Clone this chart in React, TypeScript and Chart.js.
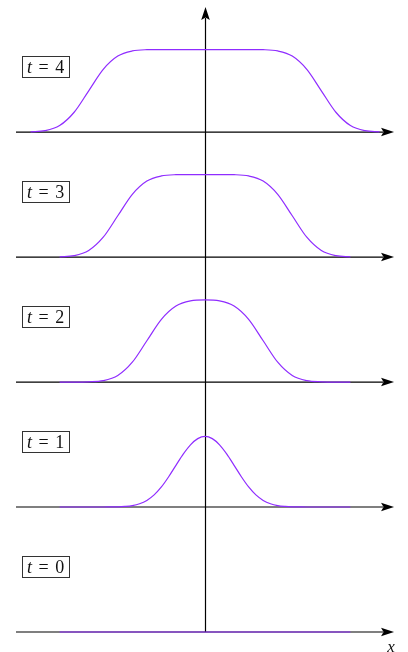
import React, { useEffect, useRef } from "react";
import { Chart, registerables } from "chart.js";

Chart.register(...registerables);

// x positions of the sampled points
const XS_NARROW = [-5, -4.5, -4, -3.5, -3, -2.5, -2, -1.5, -1, -0.5, 0, 0.5, 1, 1.5, 2, 2.5, 3, 3.5, 4, 4.5, 5];
const XS_FINE = [
  -5, -4.75, -4.5, -4.25, -4, -3.75, -3.5, -3.25, -3, -2.75, -2.5, -2.25, -2, -1.75, -1.5, -1.25, -1, -0.75, -0.5, -0.25,
  0, 0.25, 0.5, 0.75, 1, 1.25, 1.5, 1.75, 2, 2.25, 2.5, 2.75, 3, 3.25, 3.5, 3.75, 4, 4.25, 4.5, 4.75, 5,
];
const XS_WIDE = [-6, -5.5, -5, -4.5, -4, -3.5, -3, -2.5, -2, -1.5, -1, -0.5, 0, 0.5, 1, 1.5, 2, 2.5, 3, 3.5, 4, 4.5, 5, 5.5, 6];

// profile values u(x, t)
const U_T0 = [0, 0, 0, 0, 0, 0, 0, 0, 0, 0, 0, 0, 0, 0, 0, 0, 0, 0, 0, 0, 0];
const U_T1 = [
  0, 0, 0, 0, 0, 0, 0, 0.001, 0.002, 0.007, 0.017, 0.039, 0.08, 0.147, 0.243, 0.367, 0.505, 0.641, 0.754, 0.829,
  0.856, 0.829, 0.754, 0.641, 0.505, 0.367, 0.243, 0.147, 0.08, 0.039, 0.017, 0.007, 0.002, 0.001, 0, 0, 0, 0, 0, 0, 0,
];
const U_T2 = [0, 0, 0.003, 0.017, 0.079, 0.24, 0.5, 0.76, 0.921, 0.983, 0.995, 0.983, 0.921, 0.76, 0.5, 0.24, 0.079, 0.017, 0.003, 0, 0];
const U_T3 = [0.003, 0.017, 0.079, 0.24, 0.5, 0.76, 0.921, 0.983, 0.998, 1, 1, 1, 0.998, 0.983, 0.921, 0.76, 0.5, 0.24, 0.079, 0.017, 0.003];
const U_T4 = [0.003, 0.017, 0.079, 0.24, 0.5, 0.76, 0.921, 0.983, 0.998, 1, 1, 1, 1, 1, 1, 1, 0.998, 0.983, 0.921, 0.76, 0.5, 0.24, 0.079, 0.017, 0.003];

const TIMES = [0, 1, 2, 3, 4];
const PANELS = [
  { xs: XS_NARROW, u: U_T0 },
  { xs: XS_FINE, u: U_T1 },
  { xs: XS_NARROW, u: U_T2 },
  { xs: XS_NARROW, u: U_T3 },
  { xs: XS_WIDE, u: U_T4 },
];

const PANEL_GAP = 1.515;
const AXIS_X_MIN = -6.5;
const AXIS_X_MAX = 6.5;
const V_AXIS_TOP = 7.575;
const LABEL_RAISE = 0.8;
const PURPLE = "#8f2cff";

export default function App() {
  const ref = useRef<HTMLCanvasElement | null>(null);

  useEffect(() => {
    if (!ref.current) return;

    const axesPlugin = {
      id: "axesPlugin",
      beforeDatasetsDraw(chart: any) {
        const ctx = chart.ctx;
        const xs = chart.scales.x;
        const ys = chart.scales.y;
        ctx.save();
        ctx.strokeStyle = "#000";
        ctx.fillStyle = "#000";
        ctx.lineWidth = 1.2;
        const headLen = 13;
        const headHalf = 4.3;
        // horizontal axes
        TIMES.forEach((_, i) => {
          const y = ys.getPixelForValue(i * PANEL_GAP);
          const x0 = xs.getPixelForValue(AXIS_X_MIN);
          const x1 = xs.getPixelForValue(AXIS_X_MAX);
          ctx.beginPath();
          ctx.moveTo(x0, y);
          ctx.lineTo(x1 - headLen + 2, y);
          ctx.stroke();
          ctx.beginPath();
          ctx.moveTo(x1, y);
          ctx.lineTo(x1 - headLen, y - headHalf);
          ctx.lineTo(x1 - headLen + 2.5, y);
          ctx.lineTo(x1 - headLen, y + headHalf);
          ctx.closePath();
          ctx.fill();
        });
        // vertical axis
        const vx = Math.round(xs.getPixelForValue(0)) + 0.5;
        const yb = ys.getPixelForValue(0);
        const yt = ys.getPixelForValue(V_AXIS_TOP);
        ctx.beginPath();
        ctx.moveTo(vx, yb);
        ctx.lineTo(vx, yt + headLen - 2);
        ctx.stroke();
        ctx.beginPath();
        ctx.moveTo(vx, yt);
        ctx.lineTo(vx - headHalf, yt + headLen);
        ctx.lineTo(vx, yt + headLen - 2.5);
        ctx.lineTo(vx + headHalf, yt + headLen);
        ctx.closePath();
        ctx.fill();
        ctx.restore();
      },
      afterDraw(chart: any) {
        const ctx = chart.ctx;
        const xs = chart.scales.x;
        const ys = chart.scales.y;
        ctx.save();
        const fontSize = 18;
        const italic = `italic ${fontSize}px "Liberation Serif", serif`;
        const upright = `${fontSize}px "Liberation Serif", serif`;
        TIMES.forEach((t, i) => {
          const cy = ys.getPixelForValue(i * PANEL_GAP + LABEL_RAISE);
          const bx = 22.5;
          const bw = 47;
          const bh = 21;
          const by = Math.round(cy - bh / 2) + 0.5;
          ctx.fillStyle = "#fff";
          ctx.fillRect(bx, by, bw, bh);
          ctx.strokeStyle = "#333";
          ctx.lineWidth = 1;
          ctx.strokeRect(bx, by, bw, bh);
          ctx.fillStyle = "#111";
          ctx.textBaseline = "alphabetic";
          const baseY = by + bh / 2 + 5.5;
          let tx = bx + 4.5;
          ctx.font = italic;
          ctx.fillText("t", tx, baseY);
          tx += ctx.measureText("t").width + 6.5;
          ctx.font = upright;
          ctx.fillText("=", tx, baseY);
          tx += ctx.measureText("=").width + 6.5;
          ctx.fillText(String(t), tx, baseY);
        });
        // x label
        ctx.font = `italic 17px "Liberation Serif", serif`;
        ctx.fillStyle = "#111";
        ctx.textAlign = "center";
        ctx.textBaseline = "alphabetic";
        const lx = xs.getPixelForValue(AXIS_X_MAX) - 3;
        ctx.fillText("x", lx, ys.getPixelForValue(0) + 20);
        ctx.restore();
      },
    };

    const datasets = PANELS.map((p, i) => ({
      label: `t = ${TIMES[i]}`,
      data: p.xs.map((x, k) => ({ x, y: p.u[k] + i * PANEL_GAP })),
      borderColor: PURPLE,
      borderWidth: 1.2,
      pointRadius: 0,
      fill: false,
      cubicInterpolationMode: "monotone" as const,
    }));

    const chart = new Chart(ref.current, {
      type: "line",
      data: { datasets },
      options: {
        animation: false,
        responsive: false,
        maintainAspectRatio: false,
        layout: { padding: 0 },
        plugins: { legend: { display: false }, tooltip: { enabled: false } },
        scales: {
          x: { type: "linear", min: -7.05, max: 6.98, display: false },
          y: { type: "linear", min: -0.2424, max: 7.6606, display: false },
        },
      },
      plugins: [axesPlugin],
    });
    return () => chart.destroy();
  }, []);

  return (
    <div style={{ position: "fixed", left: 0, top: 0, width: 408, height: 652, background: "#fff" }}>
      <canvas ref={ref} width={408} height={652} style={{ display: "block", width: 408, height: 652 }} />
    </div>
  );
}
